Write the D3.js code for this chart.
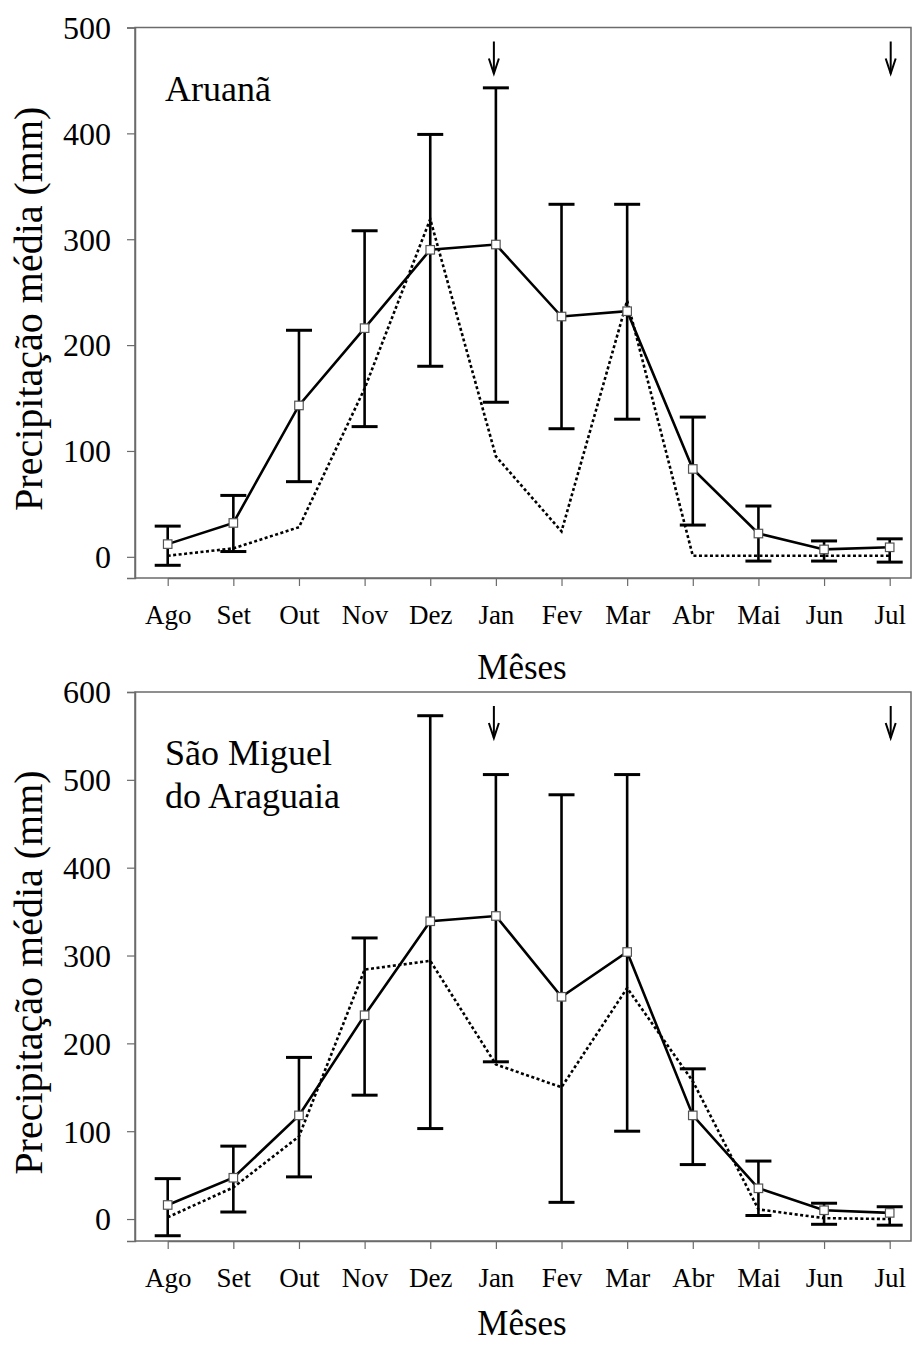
<!DOCTYPE html>
<html>
<head>
<meta charset="utf-8">
<script src="https://cdn.jsdelivr.net/npm/d3@7/dist/d3.min.js"></script>
<style>
  html, body { margin: 0; padding: 0; background: #fff; }
  svg { display: block; }
  text { font-family: "Liberation Serif", "Times New Roman", serif; fill: #000; }
</style>
</head>
<body>
<svg id="chart" width="913" height="1345"></svg>
<script>
// ---------- data ----------
const months = ["Ago","Set","Out","Nov","Dez","Jan","Fev","Mar","Abr","Mai","Jun","Jul"];

const aruanaMean   = [12, 32, 143, 216, 290, 295, 227, 232, 83, 22, 7, 9];
const aruanaUpper  = [29, 58, 214, 308, 399, 443, 333, 333, 132, 48, 15, 17];
const aruanaLower  = [-8, 5, 71, 123, 180, 146, 121, 130, 30, -4, -4, -5];
const aruanaDotted = [1, 8, 28, 159, 319, 95, 24, 242, 1, 1, 1, 1];

const saoMean   = [16, 47, 118, 232, 339, 345, 253, 304, 118, 35, 10, 7];
const saoUpper  = [46, 83, 184, 320, 573, 506, 483, 506, 171, 66, 18, 14];
const saoLower  = [-19, 8, 48, 141, 103, 179, 19, 100, 62, 4, -6, -7];
const saoDotted = [2, 36, 94, 284, 294, 176, 150, 263, 157, 11, 1, 0];

const arrowMonths = ["Jan", "Jul"];

const topTicks = [0, 100, 200, 300, 400, 500];
const bottomTicks = [0, 100, 200, 300, 400, 500, 600];

const yTitle = "Precipitação média (mm)";
const xTitle = "Mêses";

// ---------- layout ----------
const svg = d3.select("#chart");
const left = 135, right = 911;

const panels = [
  { label: ["Aruanã"], mean: aruanaMean, upper: aruanaUpper, lower: aruanaLower, dotted: aruanaDotted,
    domain: [-20, 500], top: 27.5, bottom: 578, ticks: topTicks, xTitleDy: 101 },
  { label: ["São Miguel", "do Araguaia"], mean: saoMean, upper: saoUpper, lower: saoLower, dotted: saoDotted,
    domain: [-25, 600], top: 692, bottom: 1241, ticks: bottomTicks, xTitleDy: 94 }
];

const x = d3.scalePoint().domain(months).range([167.7, 889.7]).padding(0);

panels.forEach(p => {
  const y = d3.scaleLinear().domain(p.domain).range([p.bottom, p.top]);
  const g = svg.append("g");

  // frame
  g.append("rect").attr("x", left).attr("y", p.top)
    .attr("width", right - left).attr("height", p.bottom - p.top)
    .attr("fill", "none").attr("stroke", "#6b6b6b").attr("stroke-width", 1.5);

  // y axis
  const yAx = g.append("g").attr("transform", `translate(${left},0)`)
    .call(d3.axisLeft(y).tickValues(p.ticks).tickSize(8).tickPadding(16).tickFormat(d3.format("d")));
  yAx.select(".domain").attr("stroke", "#6b6b6b").attr("stroke-width", 1.5);
  yAx.selectAll(".tick line").attr("stroke", "#6b6b6b").attr("stroke-width", 1.2);
  yAx.selectAll(".tick text").attr("font-size", 32).attr("font-family", "Liberation Serif").attr("fill", "#000")
    .attr("dy", "0.34em");

  // x axis
  const xAx = g.append("g").attr("transform", `translate(0,${p.bottom})`)
    .call(d3.axisBottom(x).tickSize(8).tickSizeOuter(0));
  xAx.select(".domain").attr("stroke", "#6b6b6b").attr("stroke-width", 1.5);
  xAx.selectAll(".tick line").attr("stroke", "#6b6b6b").attr("stroke-width", 1.2);
  xAx.selectAll(".tick text").attr("font-size", 27).attr("font-family", "Liberation Serif").attr("fill", "#000")
    .attr("y", 46).attr("dy", 0);

  // axis titles
  const midY = (p.top + p.bottom) / 2 + 6;
  g.append("text").attr("transform", `translate(42,${midY}) rotate(-90)`)
    .attr("text-anchor", "middle").attr("font-size", 40).text(yTitle);
  g.append("text").attr("x", (left + right) / 2 - 1).attr("y", p.bottom + p.xTitleDy)
    .attr("text-anchor", "middle").attr("font-size", 35).text(xTitle);

  // panel label
  p.label.forEach((t, i) => {
    g.append("text").attr("x", 165).attr("y", p.top + 73 + i * 43)
      .attr("font-size", 36).text(t);
  });

  // dotted series
  const line = d3.line().x((d, i) => x(months[i])).y(d => y(d));
  g.append("path").datum(p.dotted).attr("d", line)
    .attr("fill", "none").attr("stroke", "#000").attr("stroke-width", 2.6)
    .attr("stroke-dasharray", "3,2.5");

  // error bars
  const capW = 13;
  const eb = g.append("g").attr("stroke", "#000").attr("stroke-width", 2.6);
  months.forEach((m, i) => {
    const cx = x(m);
    eb.append("line").attr("x1", cx).attr("x2", cx).attr("y1", y(p.lower[i])).attr("y2", y(p.upper[i]));
    eb.append("line").attr("x1", cx - capW).attr("x2", cx + capW).attr("y1", y(p.upper[i])).attr("y2", y(p.upper[i])).attr("stroke-width", 3);
    eb.append("line").attr("x1", cx - capW).attr("x2", cx + capW).attr("y1", y(p.lower[i])).attr("y2", y(p.lower[i])).attr("stroke-width", 3);
  });

  // mean line
  g.append("path").datum(p.mean).attr("d", line)
    .attr("fill", "none").attr("stroke", "#000").attr("stroke-width", 2.6);

  // markers
  const ms = 8.5;
  g.selectAll("rect.mk").data(p.mean).join("rect").attr("class", "mk")
    .attr("x", (d, i) => x(months[i]) - ms / 2).attr("y", d => y(d) - ms / 2)
    .attr("width", ms).attr("height", ms)
    .attr("fill", "#fff").attr("stroke", "#555").attr("stroke-width", 1.2);

  // arrows
  arrowMonths.forEach(m => {
    const ax = x(m) + (m === "Jul" ? 1 : -2);
    const y0 = p.top + 14, y1 = p.top + 46;
    const ag = g.append("g").attr("stroke", "#000").attr("stroke-width", 2).attr("fill", "none");
    ag.append("line").attr("x1", ax).attr("x2", ax).attr("y1", y0).attr("y2", y1);
    ag.append("path").attr("d", `M${ax - 5},${y1 - 15}L${ax},${y1}L${ax + 5},${y1 - 15}`);
  });
});
</script>
</body>
</html>
